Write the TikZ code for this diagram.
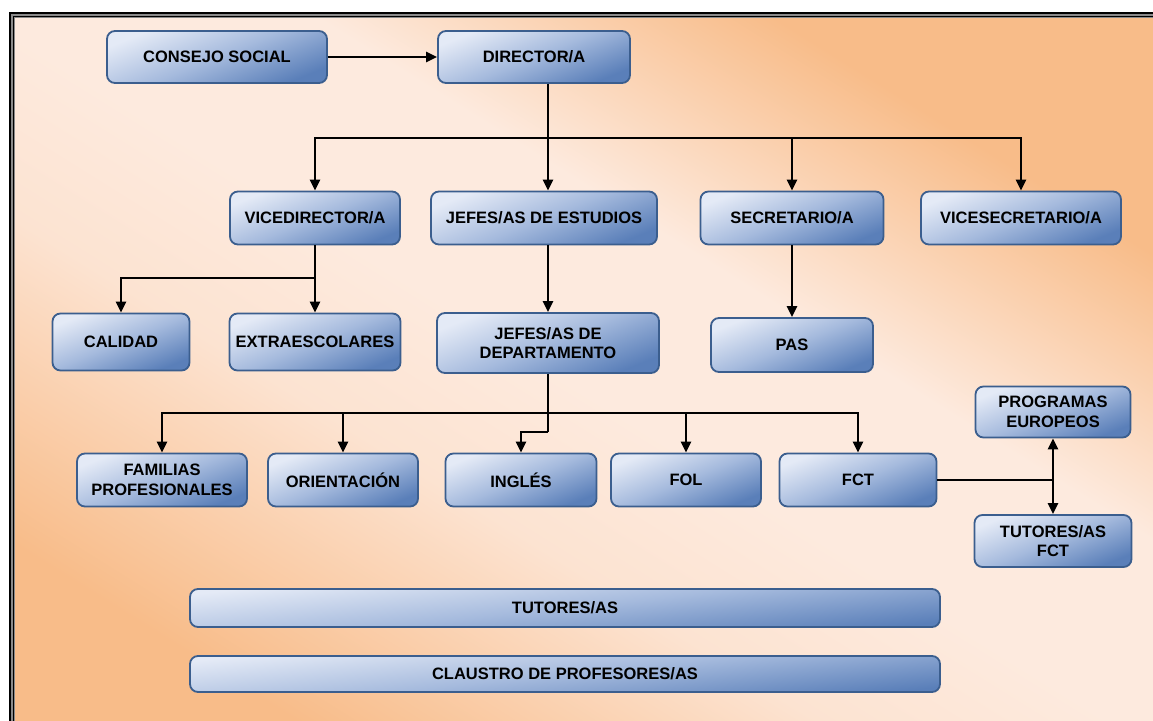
\documentclass[tikz,border=0pt]{standalone}
\usepackage{fontspec}
\setmainfont{Liberation Sans}
\usetikzlibrary{arrows.meta}
\definecolor{bgor}{HTML}{F8BC89}
\definecolor{bglt}{HTML}{FDEADE}
\definecolor{boxtop}{HTML}{E4EAF6}
\definecolor{boxmid}{HTML}{A5BADD}
\definecolor{boxbot}{HTML}{5A7FB9}
\definecolor{boxline}{HTML}{3B5E8E}
\definecolor{frgray}{HTML}{8A8A8A}
\pgfdeclareverticalshading{bgshade}{100bp}{%
  color(0bp)=(bgor); color(24bp)=(bgor); color(40bp)=(bglt!85!bgor);
  color(49bp)=(bglt); color(59bp)=(bglt); color(73bp)=(bgor); color(100bp)=(bgor)}
\begin{document}
\begin{tikzpicture}[x=1pt,y=-1pt,
  box/.style={draw=boxline, line width=1.8pt, rounded corners=8pt,
    top color=boxtop, bottom color=boxbot, middle color=boxmid, shading angle=22,
    align=center, inner sep=0pt, text=black,
    font=\fontsize{16.5}{19.5}\selectfont\bfseries},
  bar/.style={box, shading angle=6},
  conn/.style={line width=2.3pt, black},
  arr/.style={conn, -{Triangle[length=11pt,width=10pt]}},
]
\useasboundingbox (0,0) rectangle (1153,720);
\fill[white] (0,0) rectangle (1153,720);
\shade[shading=bgshade, shading angle=-32] (14,17) rectangle (1153,720);
% frame
\draw[frgray, line width=5.5pt] (11.75,730) -- (11.75,14.75) -- (1160,14.75);
\draw[black, line width=2.2pt] (10.1,730) -- (10.1,13.1) -- (1160,13.1);
\draw[black, line width=1pt] (13.9,730) -- (13.9,16.9) -- (1160,16.9);

% nodes
\node[box, minimum width=220pt, minimum height=52pt] (cs) at (217,57) {CONSEJO SOCIAL};
\node[box, minimum width=192pt, minimum height=52pt] (dir) at (534,57) {DIRECTOR/A};

\node[box, minimum width=170pt, minimum height=53pt] (vd) at (315,218) {VICEDIRECTOR/A};
\node[box, minimum width=226pt, minimum height=53pt] (je) at (544,218) {JEFES/AS DE ESTUDIOS};
\node[box, minimum width=183pt, minimum height=53pt] (sec) at (792,218) {SECRETARIO/A};
\node[box, minimum width=200pt, minimum height=53pt] (vs) at (1021,218) {VICESECRETARIO/A};

\node[box, minimum width=137pt, minimum height=57pt] (cal) at (121,342) {CALIDAD};
\node[box, minimum width=171pt, minimum height=57pt] (ext) at (315,342) {EXTRAESCOLARES};
\node[box, minimum width=222pt, minimum height=60pt] (jd) at (548,343) {JEFES/AS DE\\DEPARTAMENTO};
\node[box, minimum width=162pt, minimum height=54pt] (pas) at (792,345) {PAS};

\node[box, minimum width=170pt, minimum height=53pt] (fam) at (162,480) {FAMILIAS\\PROFESIONALES};
\node[box, minimum width=150pt, minimum height=53pt] (ori) at (343,480) {ORIENTACIÓN};
\node[box, minimum width=151pt, minimum height=53pt] (ing) at (521,480) {INGLÉS};
\node[box, minimum width=150pt, minimum height=53pt] (fol) at (686,480) {FOL};
\node[box, minimum width=157pt, minimum height=53pt] (fct) at (858,480) {FCT};

\node[box, minimum width=155pt, minimum height=51pt] (pe) at (1053,412) {PROGRAMAS\\EUROPEOS};
\node[box, minimum width=157pt, minimum height=52pt] (tf) at (1053,541) {TUTORES/AS\\FCT};

\node[bar, minimum width=750pt, minimum height=38pt] (tut) at (565,608) {TUTORES/AS};
\node[bar, minimum width=750pt, minimum height=36pt] (cla) at (565,674) {CLAUSTRO DE PROFESORES/AS};

% connectors
\draw[arr] (cs) -- (dir);

\coordinate (b1) at (548,138);
\draw[conn] (dir.south -| b1) -- (b1);
\draw[arr] (b1) -| (vd.north);
\draw[arr] (b1) -- (b1 |- je.north);
\draw[arr] (b1) -| (sec.north);
\draw[arr] (b1) -| (vs.north);

\coordinate (b2) at (315,278);
\draw[arr] (vd.south) -- (ext.north);
\draw[arr] (b2) -| (cal.north);

\draw[arr] (je.south -| jd.north) -- (jd.north);
\draw[arr] (sec.south) -- (pas.north);

\coordinate (b3) at (548,413);
\coordinate (b3b) at (548,432);
\draw[conn] (jd.south) -- (b3b);
\draw[arr] (b3b) -| (ing.north);
\draw[arr] (b3) -| (fam.north);
\draw[arr] (b3) -| (ori.north);
\draw[arr] (b3) -| (fol.north);
\draw[arr] (b3) -| (fct.north);

\coordinate (b4) at (1053,480);
\draw[conn] (fct.east) -- (b4);
\draw[arr] (b4) -- (pe.south);
\draw[arr] (b4) -- (tf.north);
\end{tikzpicture}
\end{document}
